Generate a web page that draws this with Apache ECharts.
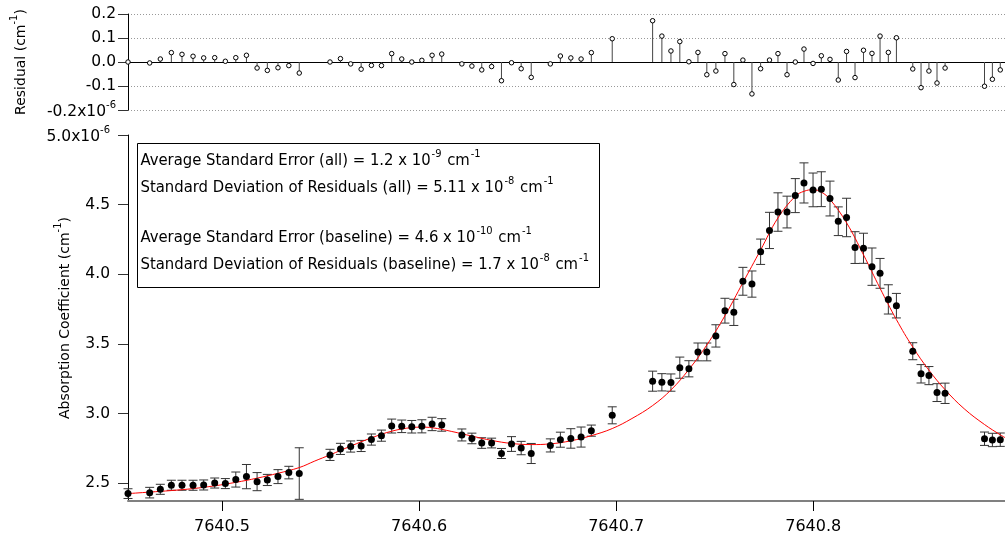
<!DOCTYPE html>
<html>
<head>
<meta charset="utf-8">
<script src="https://cdn.jsdelivr.net/npm/echarts@6/dist/echarts.min.js"></script>
<style>
  html, body { margin: 0; padding: 0; background: #fff; }
  #chart { width: 1005px; height: 540px; }
</style>
</head>
<body>
<div id="chart"></div>
<script>
// Measured spectrum (wavenumber in cm^-1, absorption in 1e-6 cm^-1)
const wavenumber = [
  7640.4523, 7640.4633, 7640.4687, 7640.4743, 7640.4797, 7640.4853, 7640.4907, 7640.4963,
  7640.5017, 7640.5070, 7640.5124, 7640.5178, 7640.5230, 7640.5284, 7640.5339, 7640.5392,
  7640.5548, 7640.5601, 7640.5653, 7640.5706, 7640.5758, 7640.5809, 7640.5861, 7640.5912,
  7640.5963, 7640.6014, 7640.6066, 7640.6115, 7640.6217, 7640.6268, 7640.6318, 7640.6368,
  7640.6418, 7640.6469, 7640.6518, 7640.6569, 7640.6666, 7640.6717, 7640.6770, 7640.6822,
  7640.6874, 7640.6980, 7640.7185, 7640.7232, 7640.7278, 7640.7323, 7640.7369, 7640.7415,
  7640.7460, 7640.7506, 7640.7552, 7640.7597, 7640.7643, 7640.7689, 7640.7733, 7640.7778,
  7640.7821, 7640.7867, 7640.7909, 7640.7953, 7640.7999, 7640.8041, 7640.8085, 7640.8127,
  7640.8169, 7640.8212, 7640.8255, 7640.8298, 7640.8339, 7640.8381, 7640.8422, 7640.8505,
  7640.8547, 7640.8587, 7640.8628, 7640.8669, 7640.8869, 7640.8909, 7640.8949
];
const absorption = [
  2.426, 2.433, 2.457, 2.486, 2.486, 2.486, 2.488, 2.502,
  2.498, 2.527, 2.548, 2.512, 2.524, 2.548, 2.577, 2.570,
  2.704, 2.747, 2.764, 2.768, 2.814, 2.842, 2.911, 2.909,
  2.906, 2.909, 2.926, 2.919, 2.847, 2.822, 2.789, 2.789,
  2.714, 2.782, 2.753, 2.714, 2.772, 2.813, 2.822, 2.832,
  2.878, 2.988, 3.233, 3.225, 3.223, 3.330, 3.322, 3.443,
  3.443, 3.558, 3.739, 3.727, 3.950, 3.930, 4.162, 4.315,
  4.447, 4.447, 4.565, 4.656, 4.606, 4.611, 4.544, 4.381,
  4.408, 4.192, 4.187, 4.055, 4.007, 3.820, 3.775, 3.448,
  3.286, 3.273, 3.151, 3.146, 2.820, 2.811, 2.813
];
const stdError = [
  0.035, 0.038, 0.036, 0.036, 0.036, 0.036, 0.036, 0.036,
  0.036, 0.054, 0.087, 0.065, 0.040, 0.050, 0.045, 0.185,
  0.040, 0.040, 0.040, 0.040, 0.040, 0.040, 0.050, 0.045,
  0.045, 0.047, 0.048, 0.045, 0.043, 0.038, 0.038, 0.035,
  0.036, 0.053, 0.048, 0.072, 0.047, 0.054, 0.070, 0.072,
  0.040, 0.061, 0.072, 0.062, 0.062, 0.076, 0.058, 0.064,
  0.064, 0.080, 0.089, 0.094, 0.100, 0.094, 0.091, 0.130,
  0.138, 0.114, 0.122, 0.144, 0.121, 0.125, 0.125, 0.103,
  0.138, 0.114, 0.108, 0.134, 0.107, 0.105, 0.088, 0.061,
  0.066, 0.065, 0.064, 0.073, 0.048, 0.048, 0.048
];
// Fit residuals (1e-6 cm^-1)
const residual = [
  0.000, -0.004, 0.0125, 0.039, 0.032, 0.024, 0.017, 0.018,
  0.003, 0.018, 0.028, -0.025, -0.035, -0.024, -0.015, -0.046,
  0.000, 0.014, -0.008, -0.030, -0.014, -0.015, 0.035, 0.0125,
  0.000, 0.007, 0.028, 0.033, -0.008, -0.017, -0.033, -0.019,
  -0.078, -0.003, -0.028, -0.064, -0.008, 0.025, 0.017, 0.0125,
  0.039, 0.097, 0.172, 0.108, 0.046, 0.085, 0.001, 0.040,
  -0.053, -0.0375, 0.035, -0.094, 0.008, -0.133, -0.028, 0.008,
  0.035, -0.053, 0.000, 0.054, -0.006, 0.026, 0.011, -0.075,
  0.044, -0.065, 0.049, 0.036, 0.108, 0.040, 0.101, -0.029,
  -0.107, -0.0375, -0.0875, -0.025, -0.101, -0.072, -0.033
];
// Fitted line profile
const fitWavenumber = [
  7640.4523, 7640.4633, 7640.4743, 7640.4853, 7640.4963, 7640.5070, 7640.5178, 7640.5284,
  7640.5392, 7640.5471, 7640.5548, 7640.5653, 7640.5758, 7640.5861, 7640.5963, 7640.6014,
  7640.6066, 7640.6166, 7640.6268, 7640.6368, 7640.6469, 7640.6569, 7640.6666, 7640.6770,
  7640.6874, 7640.6980, 7640.7080, 7640.7185, 7640.7278, 7640.7369, 7640.7460, 7640.7552,
  7640.7643, 7640.7733, 7640.7821, 7640.7909, 7640.7953, 7640.7999, 7640.8041, 7640.8085,
  7640.8169, 7640.8255, 7640.8339, 7640.8422, 7640.8505, 7640.8587, 7640.8669, 7640.8766,
  7640.8869, 7640.8949, 7640.8973
];
const fitAbsorption = [
  2.426, 2.437, 2.448, 2.462, 2.482, 2.507, 2.537, 2.572,
  2.613, 2.660, 2.704, 2.767, 2.826, 2.874, 2.900, 2.903,
  2.899, 2.872, 2.839, 2.808, 2.786, 2.778, 2.783, 2.805,
  2.842, 2.893, 2.965, 3.058, 3.170, 3.317, 3.493, 3.703,
  3.940, 4.175, 4.405, 4.560, 4.596, 4.607, 4.590, 4.538,
  4.370, 4.140, 3.900, 3.675, 3.478, 3.312, 3.172, 3.035,
  2.922, 2.848, 2.828
];
const xTicks = [7640.5, 7640.6, 7640.7, 7640.8];
const absTicks = [2.5, 3.0, 3.5, 4.0, 4.5, 5.0];
const statLines = [
  ['Average Standard Error (all) = 1.2 x 10', '-9'],
  ['Standard Deviation of Residuals (all) = 5.11 x 10', '-8'],
  ['Average Standard Error (baseline) = 4.6 x 10', '-10'],
  ['Standard Deviation of Residuals (baseline) = 1.7 x 10', '-8']
];

const X_MIN = 7640.4523, X_MAX = 7640.8973;
const FONT = "'DejaVu Sans', 'Liberation Sans', sans-serif";
const NOTE_FONT = "'Liberation Sans Narrow', 'DejaVu Sans Condensed', 'Liberation Sans', sans-serif";

const supRich = {
  n: { fontFamily: FONT, fontSize: 15.5, color: '#000', verticalAlign: 'bottom' },
  s: { fontFamily: FONT, fontSize: 10, color: '#000', verticalAlign: 'bottom', padding: [0, 0, 10, 0] }
};
const nameRich = {
  n: { fontFamily: FONT, fontSize: 14, color: '#000', verticalAlign: 'bottom' },
  s: { fontFamily: FONT, fontSize: 10, color: '#000', verticalAlign: 'bottom', padding: [0, 0, 9, 0] }
};

const errorData = wavenumber.map((x, i) => [x, absorption[i] - stdError[i], absorption[i] + stdError[i]]);
const pointData = wavenumber.map((x, i) => [x, absorption[i]]);
const residData = wavenumber.map((x, i) => [x, residual[i]]);
const fitData = fitWavenumber.map((x, i) => [x, fitAbsorption[i]]);

const chart = echarts.init(document.getElementById('chart'), null, { renderer: 'canvas' });

// Statistics box in the upper-left of the spectrum panel
const noteChildren = [
  { type: 'rect', shape: { x: 0, y: 0, width: 462, height: 144 },
    style: { fill: '#fff', stroke: '#000', lineWidth: 1 } }
];
const lineTops = [5, 32, 82, 109];
statLines.forEach((ln, i) => {
  noteChildren.push({
    type: 'text', x: 3, y: lineTops[i],
    style: {
      text: '{n|' + ln[0] + '}{s|' + ln[1] + '}{n| cm}{s|-1}',
      rich: {
        n: { fontFamily: NOTE_FONT, fontSize: 16.5, fill: '#000', verticalAlign: 'bottom' },
        s: { fontFamily: NOTE_FONT, fontSize: 11, fill: '#000', verticalAlign: 'bottom', padding: [0, 1, 10, 1] }
      }
    }
  });
});

chart.setOption({
  animation: false,
  backgroundColor: '#fff',
  grid: [
    { left: 128, right: 0, top: 14, height: 96 },
    { left: 128, right: 0, top: 135, height: 366 }
  ],
  xAxis: [
    {
      gridIndex: 0, type: 'value', min: X_MIN, max: X_MAX,
      axisLine: { onZero: true, lineStyle: { color: '#000', width: 1 } },
      axisTick: { show: false }, axisLabel: { show: false }, splitLine: { show: false }
    },
    {
      gridIndex: 1, type: 'value', min: X_MIN, max: X_MAX, position: 'bottom',
      axisLine: { onZero: false, lineStyle: { color: '#808080', width: 2 } },
      axisTick: { show: true, length: 10, lineStyle: { color: '#000' }, customValues: xTicks },
      axisLabel: { customValues: xTicks, margin: 18, fontFamily: FONT, fontSize: 16, color: '#000',
        formatter: v => v.toFixed(1) },
      splitLine: { show: false }
    }
  ],
  yAxis: [
    {
      gridIndex: 0, type: 'value', min: -0.2, max: 0.2, interval: 0.1,
      name: '{n|Residual (cm}{s|-1}{n|)}', nameLocation: 'middle', nameRotate: 90, nameGap: 100,
      nameMoveOverlap: false,
      nameTextStyle: { rich: nameRich },
      axisLine: { show: true, lineStyle: { color: '#000' } },
      axisTick: { show: true, length: 10, lineStyle: { color: '#333' } },
      axisLabel: {
        margin: 12, rich: supRich,
        formatter: v => Math.abs(v + 0.2) < 1e-9 ? '{n|-0.2x10}{s|-6}' : '{n|' + v.toFixed(1) + '}'
      },
      splitLine: { show: true, lineStyle: { color: '#999', type: [1, 2], width: 1 } }
    },
    {
      gridIndex: 1, type: 'value', min: 2.373, max: 5.0,
      name: '{n|Absorption Coefficient (cm}{s|-1}{n|)}', nameLocation: 'middle', nameRotate: 90, nameGap: 56,
      nameMoveOverlap: false,
      nameTextStyle: { rich: nameRich },
      axisLine: { show: true, lineStyle: { color: '#000' } },
      axisTick: { show: true, length: 10, lineStyle: { color: '#333' }, customValues: absTicks },
      axisLabel: {
        customValues: absTicks, margin: 18, rich: supRich,
        formatter: v => Math.abs(v - 5) < 1e-9 ? '{n|5.0x10}{s|-6}' : '{n|' + v.toFixed(1) + '}'
      },
      splitLine: { show: false }
    }
  ],
  graphic: [
    { type: 'group', left: 137, top: 143, children: noteChildren }
  ],
  series: [
    {
      name: 'residual stems', type: 'custom', xAxisIndex: 0, yAxisIndex: 0,
      data: residData, encode: { x: 0, y: 1 },
      renderItem: (params, api) => {
        const p0 = api.coord([api.value(0), 0]);
        const p1 = api.coord([api.value(0), api.value(1)]);
        return { type: 'line', shape: { x1: p0[0], y1: p0[1], x2: p1[0], y2: p1[1] },
          style: { stroke: '#444', lineWidth: 1 } };
      }
    },
    {
      name: 'residual', type: 'scatter', xAxisIndex: 0, yAxisIndex: 0,
      data: residData, symbol: 'circle', symbolSize: 4.5,
      itemStyle: { color: '#fff', borderColor: '#000', borderWidth: 1, opacity: 1 }
    },
    {
      name: 'error bars', type: 'custom', xAxisIndex: 1, yAxisIndex: 1,
      data: errorData, encode: { x: 0, y: [1, 2] },
      renderItem: (params, api) => {
        const x = api.value(0);
        const lo = api.coord([x, api.value(1)]);
        const hi = api.coord([x, api.value(2)]);
        const hw = 4.5;
        const st = { stroke: '#333', lineWidth: 1 };
        return { type: 'group', children: [
          { type: 'line', shape: { x1: lo[0], y1: lo[1], x2: hi[0], y2: hi[1] }, style: st },
          { type: 'line', shape: { x1: lo[0] - hw, y1: lo[1], x2: lo[0] + hw, y2: lo[1] }, style: st },
          { type: 'line', shape: { x1: hi[0] - hw, y1: hi[1], x2: hi[0] + hw, y2: hi[1] }, style: st }
        ] };
      }
    },
    {
      name: 'fit', type: 'line', xAxisIndex: 1, yAxisIndex: 1,
      data: fitData, smooth: 0.4, showSymbol: false, z: 3,
      lineStyle: { color: '#ff0000', width: 1 }
    },
    {
      name: 'absorption', type: 'scatter', xAxisIndex: 1, yAxisIndex: 1,
      data: pointData, symbol: 'circle', symbolSize: 7, z: 4,
      itemStyle: { color: '#000', opacity: 1 }
    }
  ]
});
</script>
</body>
</html>
